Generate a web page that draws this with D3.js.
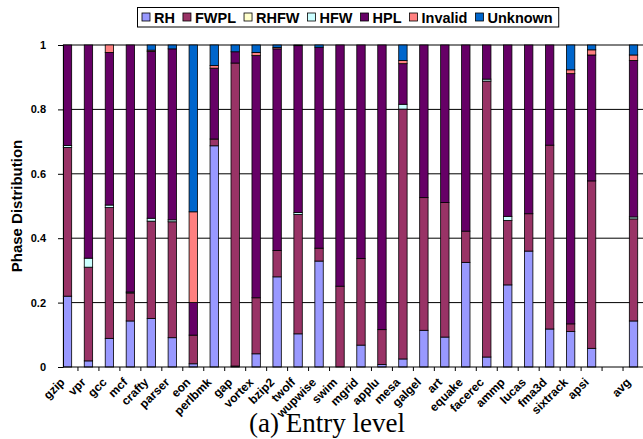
<!DOCTYPE html>
<html>
<head>
<meta charset="utf-8">
<script src="https://cdn.jsdelivr.net/npm/d3@7"></script>
<style>
  html, body { margin: 0; padding: 0; background: #fff; }
  svg { display: block; font-family: Arial, "Liberation Sans", sans-serif; }
</style>
</head>
<body>
<svg id="chart" width="643" height="439"></svg>
<script>
// benchmarks (empty slot before avg)
var categories = ["gzip","vpr","gcc","mcf","crafty","parser","eon","perlbmk","gap","vortex",
  "bzip2","twolf","wupwise","swim","mgrid","applu","mesa","galgel","art","equake",
  "facerec","ammp","lucas","fma3d","sixtrack","apsi","","avg"];

var seriesNames = ["RH","FWPL","RHFW","HFW","HPL","Invalid","Unknown"];
var seriesColors = ["#9999FF","#993366","#FFFFCC","#CCFFFF","#660066","#FF8080","#0066CC"];

var rh      = [.220,.019,.089,.143,.151,.091,.010,.687,.003,.041,.280,.103,.329,0,.068,.008,.025,.114,.093,.325,.031,.255,.360,.118,.110,.058,0,.143];
var fwpl    = [.462,.291,.406,.087,.302,.360,.089,.021,.941,.174,.082,.371,.040,.251,.269,.108,.776,.412,.418,.097,.857,.200,.116,.571,.024,.520,0,.317];
var rhfw    = [0,0,0,0,0,0,0,0,0,0,0,0,0,0,0,0,0,0,0,0,0,0,0,0,0,0,0,0];
var hfw     = [.006,.028,.008,.003,.009,.006,0,0,0,0,0,.006,0,0,0,0,.015,0,0,0,.006,.013,0,0,0,0,0,.006];
var hpl     = [.312,.662,.474,.767,.518,.531,.101,.220,.035,.752,.626,.518,.624,.749,.663,.884,.126,.474,.489,.578,.106,.532,.524,.311,.777,.391,0,.486];
var invalid = [0,0,.023,0,.004,0,.282,.008,0,.010,.004,0,0,0,0,0,.010,0,0,0,0,0,0,0,.012,.016,0,.017];
var unknown = [0,0,0,0,.016,.012,.518,.064,.021,.023,.008,.002,.007,0,0,0,.048,0,0,0,0,0,0,0,.077,.015,0,.031];

var yTicks = [0, 0.2, 0.4, 0.6, 0.8, 1];

var svg = d3.select("#chart");
var plotLeft = 63, plotRight = 643, plotTop = 45, plotBottom = 367;

// table for the stack
var rows = categories.map(function(c, i) {
  return { idx: i, name: c, RH: rh[i], FWPL: fwpl[i], RHFW: rhfw[i], HFW: hfw[i],
           HPL: hpl[i], Invalid: invalid[i], Unknown: unknown[i] };
});

var x = d3.scaleBand()
  .domain(d3.range(categories.length))
  .range([57, 644])
  .paddingInner(0.6)
  .paddingOuter(0.3);

var y = d3.scaleLinear().domain([0, 1]).range([plotBottom, plotTop]);

// grid lines
svg.append("g").selectAll("line")
  .data(yTicks.filter(function(d) { return d > 0; }))
  .enter().append("line")
  .attr("x1", plotLeft).attr("x2", plotRight)
  .attr("y1", function(d) { return y(d); })
  .attr("y2", function(d) { return y(d); })
  .attr("stroke", "#000").attr("stroke-width", 1);

// stacked bars
var stack = d3.stack().keys(seriesNames)(rows);
var color = d3.scaleOrdinal().domain(seriesNames).range(seriesColors);

svg.append("g").selectAll("g")
  .data(stack)
  .enter().append("g")
  .attr("fill", function(d) { return color(d.key); })
  .selectAll("rect")
  .data(function(d) { return d.filter(function(p) { return p[1] - p[0] > 0; }); })
  .enter().append("rect")
  .attr("x", function(d) { return x(d.data.idx); })
  .attr("width", x.bandwidth())
  .attr("y", function(d) { return y(d[1]); })
  .attr("height", function(d) { return y(d[0]) - y(d[1]); })
  .attr("stroke", "#000").attr("stroke-width", 0.8);

// y axis
var yAxis = svg.append("g")
  .attr("transform", "translate(" + plotLeft + ",0)")
  .call(d3.axisLeft(y).tickValues(yTicks).tickSize(5).tickSizeOuter(0)
    .tickFormat(function(d) { return String(d); }));
yAxis.attr("font-family", null);
yAxis.select(".domain").attr("stroke", "#000");
yAxis.selectAll("text")
  .attr("font-size", "11px").attr("font-weight", "bold")
  .attr("x", -17);

// x axis line + ticks at category boundaries
svg.append("line")
  .attr("x1", plotLeft).attr("x2", plotRight)
  .attr("y1", plotBottom).attr("y2", plotBottom)
  .attr("stroke", "#000").attr("stroke-width", 1);

svg.append("g").selectAll("line")
  .data(d3.range(1, categories.length))
  .enter().append("line")
  .attr("x1", function(i) { return x(i) - x.step() * 0.3; })
  .attr("x2", function(i) { return x(i) - x.step() * 0.3; })
  .attr("y1", plotBottom).attr("y2", plotBottom + 4)
  .attr("stroke", "#000");

// category labels
svg.append("g").selectAll("text")
  .data(rows)
  .enter().append("text")
  .attr("transform", function(d) {
    return "translate(" + (x(d.idx) + x.bandwidth() / 2 - 2) + "," + (plotBottom + 16) + ") rotate(-45)";
  })
  .attr("text-anchor", "end")
  .attr("font-size", "12px").attr("font-weight", "bold")
  .text(function(d) { return d.name; });

// y title
svg.append("text")
  .attr("transform", "translate(22," + (plotTop + plotBottom) / 2 + ") rotate(-90)")
  .attr("text-anchor", "middle")
  .attr("font-size", "15px").attr("font-weight", "bold")
  .text("Phase Distribution");

// legend
var lg = svg.append("g");
var lx = 142;
seriesNames.forEach(function(name, i) {
  lg.append("rect")
    .attr("x", lx).attr("y", 13).attr("width", 8).attr("height", 8)
    .attr("fill", seriesColors[i]).attr("stroke", "#000").attr("stroke-width", 0.8);
  var t = lg.append("text")
    .attr("x", lx + 12).attr("y", 22.5)
    .attr("font-size", "14.5px").attr("font-weight", "bold")
    .text(name);
  lx += 12 + t.node().getComputedTextLength() + 8;
});
lg.insert("rect", ":first-child")
  .attr("x", 137.5).attr("y", 7.5)
  .attr("width", lx - 137.5 - 2).attr("height", 19.5)
  .attr("fill", "#fff").attr("stroke", "#000").attr("stroke-width", 1);

// caption
svg.append("text")
  .attr("x", 327).attr("y", 432)
  .attr("text-anchor", "middle")
  .style("font-family", "'Times New Roman', 'Liberation Serif', serif")
  .attr("font-size", "27px")
  .text("(a) Entry level");
</script>
</body>
</html>
